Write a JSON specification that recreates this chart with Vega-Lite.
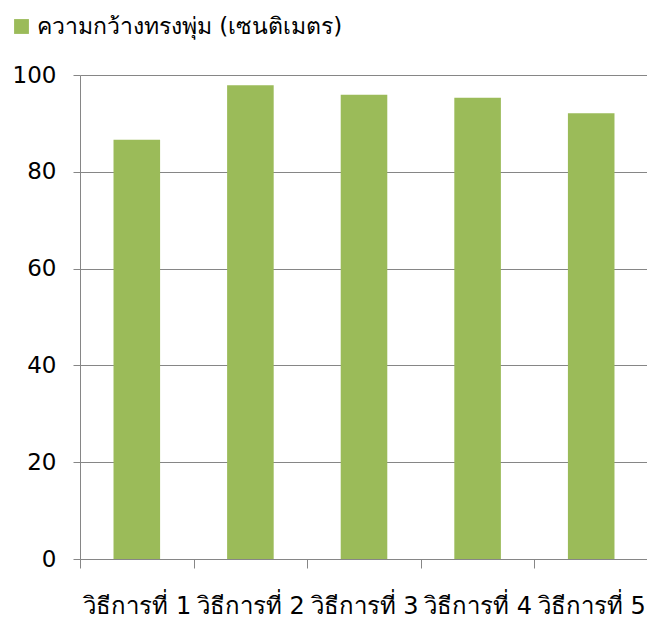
{
  "$schema": "https://vega.github.io/schema/vega-lite/v6.json",
  "width": 568,
  "height": 484,
  "autosize": "none",
  "padding": {"left": 80, "top": 75, "right": 0, "bottom": 65},
  "background": "white",
  "data": {
    "values": [
      {"method": "วิธีการที่ 1", "value": 86.6, "series": "ความกว้างทรงพุ่ม (เซนติเมตร)"},
      {"method": "วิธีการที่ 2", "value": 97.9, "series": "ความกว้างทรงพุ่ม (เซนติเมตร)"},
      {"method": "วิธีการที่ 3", "value": 95.9, "series": "ความกว้างทรงพุ่ม (เซนติเมตร)"},
      {"method": "วิธีการที่ 4", "value": 95.3, "series": "ความกว้างทรงพุ่ม (เซนติเมตร)"},
      {"method": "วิธีการที่ 5", "value": 92.1, "series": "ความกว้างทรงพุ่ม (เซนติเมตร)"}
    ]
  },
  "mark": {"type": "bar", "width": {"band": 0.41}},
  "encoding": {
    "x": {
      "field": "method",
      "type": "nominal",
      "sort": null,
      "scale": {"paddingInner": 0, "paddingOuter": 0},
      "axis": {
        "title": null,
        "labelAngle": 0,
        "labelFont": "DejaVu Sans",
        "labelFontSize": 24,
        "labelColor": "#000000",
        "labelPadding": 26,
        "labelOverlap": false,
        "ticks": true,
        "tickBand": "extent",
        "tickSize": 9,
        "tickWidth": 1,
        "tickColor": "#868686",
        "domainColor": "#868686",
        "grid": false
      }
    },
    "y": {
      "field": "value",
      "type": "quantitative",
      "scale": {"domain": [0, 100], "nice": false},
      "axis": {
        "title": null,
        "values": [0, 20, 40, 60, 80, 100],
        "labelFont": "DejaVu Sans",
        "labelFontSize": 23,
        "labelColor": "#000000",
        "labelPadding": 17,
        "tickSize": 7,
        "tickColor": "#868686",
        "domainColor": "#868686",
        "gridColor": "#868686",
        "grid": true
      }
    },
    "color": {
      "field": "series",
      "type": "nominal",
      "scale": {"range": ["#9BBB59"]},
      "legend": {
        "title": null,
        "orient": "none",
        "legendX": -70,
        "legendY": -60,
        "symbolType": "square",
        "symbolSize": 220,
        "symbolStrokeWidth": 0,
        "labelFont": "DejaVu Sans",
        "labelFontSize": 23,
        "labelColor": "#000000",
        "labelLimit": 500
      }
    }
  },
  "config": {"view": {"stroke": null}}
}
